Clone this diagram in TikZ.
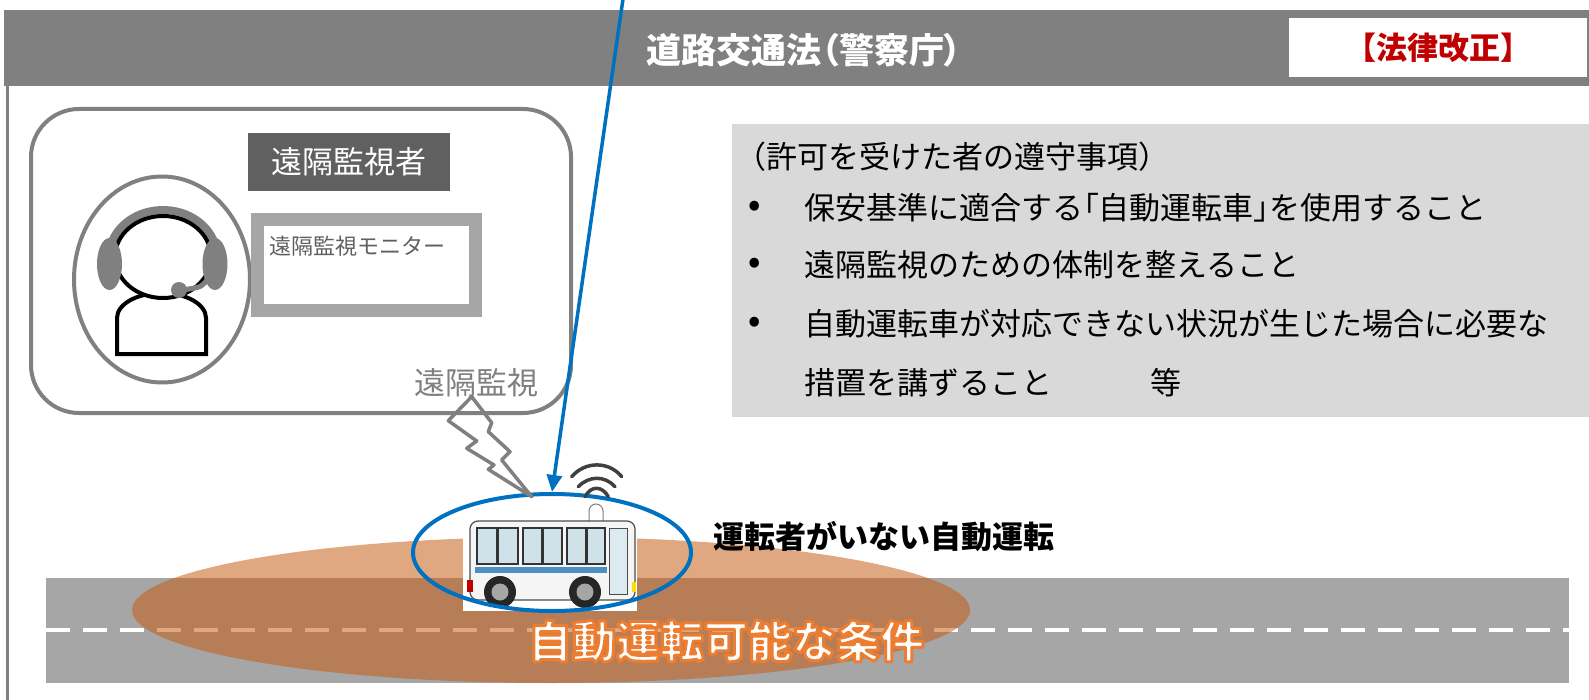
\documentclass[tikz,border=0pt]{standalone}
\usepackage{fontspec}
\setmainfont{Noto Sans CJK JP}
\usepackage{tikz}
\usetikzlibrary{arrows.meta,shapes.geometric,calc}

\definecolor{barGray}{HTML}{808080}
\definecolor{roleGray}{HTML}{606060}
\definecolor{monGray}{HTML}{A6A6A6}
\definecolor{infoGray}{HTML}{D9D9D9}
\definecolor{roadGray}{HTML}{A6A6A6}
\definecolor{lawRed}{HTML}{C00000}
\definecolor{linkBlue}{HTML}{0070C0}
\definecolor{zoneOrange}{HTML}{C55A11}
\definecolor{waveGray}{HTML}{404040}
\definecolor{glassBlue}{HTML}{CFE2EA}
\definecolor{stripeBlue}{HTML}{4D8FBF}

\newcommand{\fsz}[1]{\fontsize{#1}{#1}\selectfont}
% proportional brackets
\newcommand{\pb}[1]{{\addfontfeature{RawFeature=+palt}#1}}
% white letters with an orange rim (fill + stroke render mode)
\newcommand{\rimtext}[1]{{\color{white}\special{pdf:literal direct 0.929 0.490 0.192 RG 1 j 3 w 2 Tr}#1\special{pdf:literal direct 0 Tr}}}

\begin{document}
\begin{tikzpicture}[
  x=1pt, y=-1pt, inner sep=0pt,
  title/.style={text=white, font=\fsz{35}\bfseries},
  lawtag/.style={fill=white, text=lawRed, font=\fsz{31}\bfseries, minimum width=298pt, minimum height=59pt},
  panel/.style={draw=barGray, line width=4pt, rounded corners=48pt},
  rolebox/.style={fill=roleGray, text=white, font=\fsz{31}, minimum width=202pt, minimum height=58pt},
  screen/.style={draw=monGray, fill=white, line width=13pt, minimum width=218pt, minimum height=91pt},
  infotext/.style={anchor=west, font=\fsz{31}},
  zone/.style={ellipse, fill=zoneOrange, fill opacity=.53, minimum width=838pt, minimum height=146pt},
  ring/.style={ellipse, draw=linkBlue, line width=4pt, minimum width=278pt, minimum height=117pt},
  feedline/.style={draw=linkBlue, line width=3.5pt, -{Triangle[length=17pt, width=15pt]}},
  zonetext/.style={font=\fsz{44}\bfseries},
  wave/.style={draw=waveGray, line width=3.5pt, line cap=round},
  bolt/.style={draw=barGray, line width=3.5pt, line join=round}
]
  \useasboundingbox (0,0) rectangle (1589,700);

  % header band
  \fill[barGray] (4,10) rectangle (1589,86);
  \draw[barGray, line width=3pt] (7,86) -- (7,700);
  \node[title] (law) at (804,50) {道路交通法\pb{（}警察庁\pb{）}};
  \node[lawtag] (revision) at (1438,47.5) {【法律改正】};

  % remote operator
  \draw[panel] (31,109) rectangle (571,413);
  \node[rolebox] (role) at (349,162) {遠隔監視者};
  \draw[barGray, line width=4pt] (162,279.5) ellipse[x radius=88, y radius=103];
  \node[screen] (monitor) at (366.5,265) {};
  \node[anchor=west, text=roleGray, font=\fsz{22}] (monitorlabel) at (269,246) {遠隔監視モニター};
  \draw[black, line width=4pt, fill=white] (117,354) -- (117,318)
    arc[start angle=180, end angle=360, x radius=44.5, y radius=25] -- (206,354) -- cycle;
  \draw[barGray, line width=8pt] (163,257) ++(195:54 and 47)
    arc[start angle=195, end angle=345, x radius=54, y radius=47];
  \draw[black, line width=4pt, fill=white] (163,257) ellipse[x radius=48, y radius=41];
  \fill[barGray] (109.5,264) ellipse[x radius=12.5, y radius=26];
  \fill[barGray] (215,264) ellipse[x radius=12.5, y radius=26];
  \draw[barGray, line width=5pt, line cap=round] (209,276) .. controls (203,287) .. (182,290);
  \fill[barGray] (179,290) circle[radius=8];
  \node[text=barGray, font=\fsz{31}] (watch) at (476,383) {遠隔監視};

  % duties of the permit holder
  \fill[infoGray] (732,124) rectangle (1589,417);
  \node[infotext] (duties) at (735,157) {（許可を受けた者の遵守事項）};
  \foreach \y [count=\i] in {208,265,324}
    \node[infotext, font=\fsz{31}\bfseries] (dot\i) at (748,\y) {•};
  \node[infotext] (duty1) at (804,208) {保安基準に適合する\pb{「}自動運転車\pb{」}を使用すること};
  \node[infotext] (duty2) at (804,265) {遠隔監視のための体制を整えること};
  \node[infotext] (duty3) at (804,324) {自動運転車が対応できない状況が生じた場合に必要な};
  \node[infotext] (duty3b) at (804,383) {措置を講ずること\hspace{98pt}等};

  % road and operating zone
  \fill[roadGray] (46,578) rectangle (1569,683);
  \draw[white, line width=4pt, dash pattern=on 24pt off 13pt] (46,630) -- (1569,630);
  \node[zone] (odd) at (551,610) {};

  % bus
  \fill[white] (463,515) rectangle (637,611);
  \draw[gray, fill=white, line width=1pt] (589,522) -- (589,511)
    arc[start angle=180, end angle=360, radius=7] -- (603,522);
  \draw[black!70, fill=black!4, line width=1.2pt, rounded corners=8pt] (470,521) rectangle (635,600);
  \foreach \xa/\xb in {477/497, 498/518, 523/542, 543/562, 567/586, 587/605}
    \draw[black!80, fill=glassBlue, line width=1.2pt] (\xa,528) rectangle (\xb,564);
  \fill[stripeBlue] (475,567) rectangle (607,573);
  \draw[black!70, fill=glassBlue!70, line width=1pt] (609,528) rectangle (627,594);
  \fill[red!75!black] (467,580) rectangle (473,592);
  \fill[yellow!80!orange] (632,582) rectangle (636,592);
  \foreach \cx in {500,585} {
    \fill[black!85] (\cx,592) circle[radius=16];
    \fill[black!35] (\cx,592) circle[radius=8.5];
  }
  \node[ring] (busring) at (552,552.5) {};

  % signal path
  \coordinate (feed) at (623,-1);
  \draw[feedline] (feed) -- (busring.north);
  \draw[wave] (571.7,476.7) .. controls (585,461) and (609,461) .. (621.7,476.7);
  \draw[wave] (578.3,486.7) .. controls (589,475.5) and (605,475.5) .. (615,486.7);
  \draw[wave] (585,496.7) .. controls (591,485.5) and (602,485.5) .. (608.3,496.7);
  \draw[bolt] (471.7,396.7) -- (448.3,420.7) -- (476.7,441) -- (466.7,448.3)
    -- (494,465) -- (488.3,469.3) -- (531.7,496.7) -- (501.7,460) -- (510,451.7)
    -- (488.3,431.7) -- (491.7,422.7) -- cycle;

  \node[font=\fsz{31}\bfseries] (driverless) at (884,537) {運転者がいない自動運転};
  \node[zonetext] (oddlabel) at (726,641) {\rimtext{自動運転可能な条件}};
\end{tikzpicture}
\end{document}
